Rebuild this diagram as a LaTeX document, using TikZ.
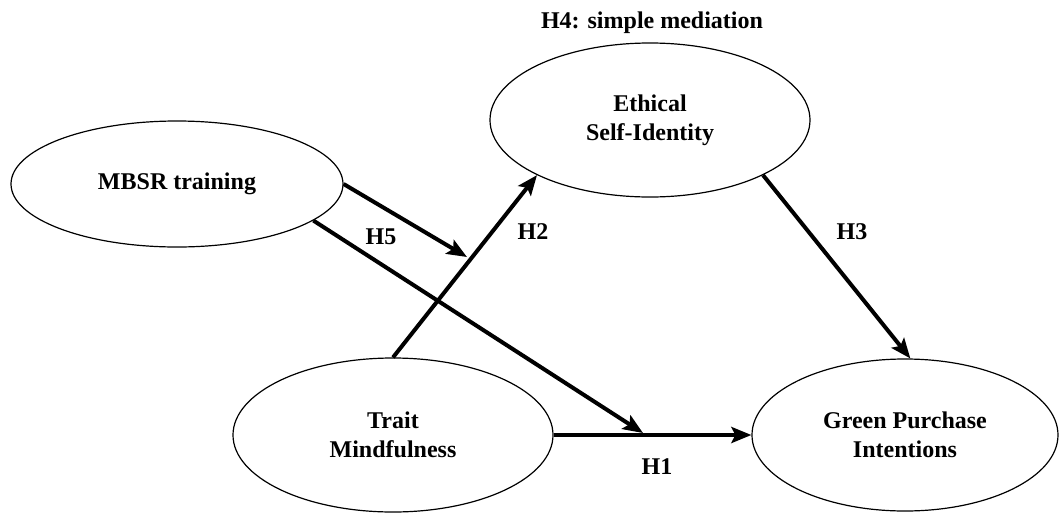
\documentclass[tikz,border=0pt]{standalone}
\usepackage{fontspec}
\setmainfont{Liberation Serif}
\usetikzlibrary{shapes.geometric, positioning, arrows.meta}

\begin{document}
\begin{tikzpicture}[x=1pt, y=-1pt, >={Stealth[length=20pt, width=16pt, inset=4pt]}, node distance=512pt]
    \tikzstyle{latent} = [draw, line width=1.2pt, ellipse, align=center, font=\fontsize{24}{29}\selectfont\bfseries]
    \tikzstyle{hyp} = [inner sep=0pt, font=\fontsize{24}{29}\selectfont\bfseries]

    \useasboundingbox (0,0) rectangle (1061,512);

    \begin{scope}
        \coordinate (h5end) at (467,257);
        \coordinate (h1mid) at (643,433);

        \path[->, line width=4pt]
            node[latent, minimum width=332pt, minimum height=126pt] (mbsr) at (177,184) {MBSR training}
            node[latent, minimum width=320pt, minimum height=154pt] (ethical) at (650,120) {Ethical\\Self-Identity}
            node[latent, minimum width=320pt, minimum height=154pt] (trait) at (393,435) {Trait\\Mindfulness}
            node[latent, minimum width=306pt, minimum height=152pt, right of=trait] (green) {Green Purchase\\Intentions}

            (trait.north) edge (ethical.206)
            (ethical.334) edge (green.86)
            (trait.east) edge (green.west)
            (mbsr.east) edge (h5end)
            (mbsr.345) edge (h1mid)
            ;

        \node[hyp] (h4) at (652,23) {H4: simple mediation};
        \node[hyp] (h5) at (381,237) {H5};
        \node[hyp] (h2) at (533,232) {H2};
        \node[hyp] (h3) at (852,232) {H3};
        \node[hyp] (h1) at (657,467) {H1};
    \end{scope}
\end{tikzpicture}
\end{document}
